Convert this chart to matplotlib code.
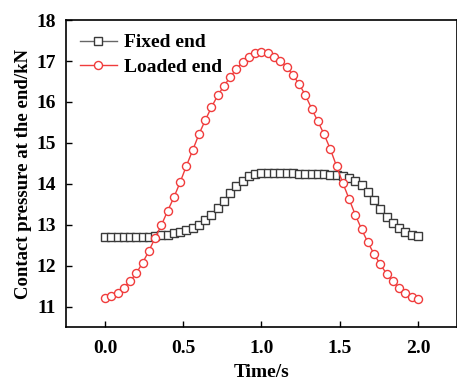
import numpy as np
import matplotlib
matplotlib.use("Agg")
import matplotlib.pyplot as plt

# Time axis (s), 51 samples
time_s = np.round(np.arange(0, 2.0001, 0.04), 2)

fixed_end = [
    12.69, 12.69, 12.70, 12.70, 12.70, 12.71, 12.71, 12.71, 12.72, 12.74,
    12.76, 12.79, 12.83, 12.86, 12.92, 12.99, 13.11, 13.24, 13.41, 13.59,
    13.77, 13.94, 14.08, 14.19, 14.24, 14.26, 14.26, 14.26, 14.26, 14.26,
    14.26, 14.25, 14.25, 14.24, 14.24, 14.23, 14.22, 14.21, 14.19, 14.14,
    14.08, 13.98, 13.81, 13.60, 13.39, 13.20, 13.04, 12.91, 12.82, 12.75,
    12.72,
]

loaded_end = [
    11.21, 11.26, 11.34, 11.46, 11.62, 11.82, 12.07, 12.36, 12.68, 12.99,
    13.34, 13.67, 14.04, 14.44, 14.82, 15.21, 15.55, 15.87, 16.16, 16.39,
    16.61, 16.81, 16.98, 17.10, 17.19, 17.22, 17.20, 17.11, 17.01, 16.86,
    16.66, 16.44, 16.17, 15.84, 15.53, 15.21, 14.85, 14.43, 14.02, 13.63,
    13.24, 12.89, 12.57, 12.28, 12.03, 11.80, 11.62, 11.45, 11.33, 11.23,
    11.18,
]

x_ticks = [0.0, 0.5, 1.0, 1.5, 2.0]
y_ticks = [11, 12, 13, 14, 15, 16, 17, 18]

plt.rcParams["font.family"] = ["Liberation Serif", "DejaVu Serif"]
plt.rcParams["font.weight"] = "bold"

fig = plt.figure(figsize=(4.57, 3.79), dpi=100)
ax = fig.add_axes([0.1444, 0.137, 0.8556, 0.810])

ax.plot(time_s, fixed_end, color="#666666", lw=1.0, marker="s", ms=5.2,
        mfc="white", mec="#3a3a3a", mew=1.0, label="Fixed end")
ax.plot(time_s, loaded_end, color="#f03c3c", lw=1.0, marker="o", ms=5.8,
        mfc="white", mec="#f03c3c", mew=1.0, label="Loaded end")

ax.set_xlim(-0.25, 2.25)
ax.set_ylim(10.5, 18)
ax.set_xticks(x_ticks)
ax.set_xticklabels([f"{v:.1f}" for v in x_ticks])
ax.set_yticks(y_ticks)
ax.tick_params(direction="in", labelsize=14, length=4, width=1)
ax.tick_params(axis="x", pad=9)
ax.tick_params(axis="y", pad=7)
for lab in ax.get_xticklabels() + ax.get_yticklabels():
    lab.set_fontweight("bold")
for sp in ax.spines.values():
    sp.set_linewidth(1.2)

ax.set_xlabel("Time/s", fontsize=14, fontweight="bold", labelpad=5)
ax.set_ylabel("Contact pressure at the end/kN", fontsize=13.5, fontweight="bold", labelpad=3)

leg = ax.legend(loc="upper left", frameon=False, handlelength=1.9,
                handletextpad=0.4, borderaxespad=0.3, labelspacing=0.35,
                prop={"weight": "bold", "size": 14})

fig.savefig("out.png", dpi=100)
